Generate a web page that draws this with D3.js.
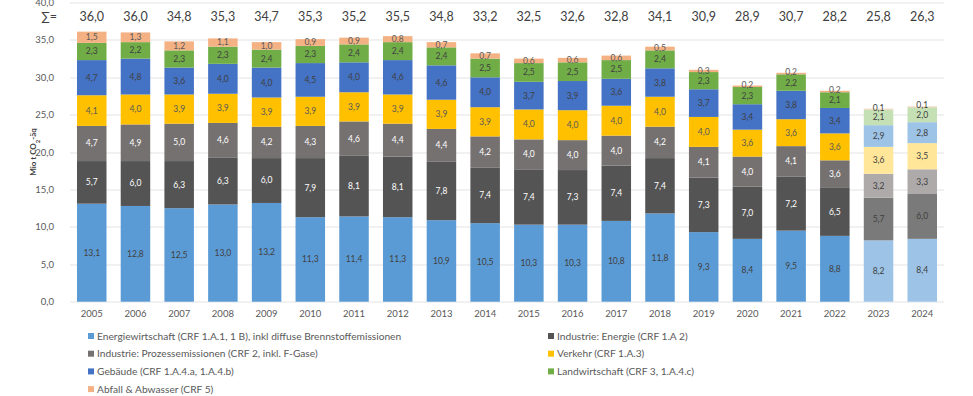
<!DOCTYPE html>
<html>
<head>
<meta charset="utf-8">
<script src="https://cdn.jsdelivr.net/npm/d3@7"></script>
<style>
  body { margin: 0; background: #fff; }
  svg { display: block; font-family: Lato, "Open Sans", sans-serif; }
</style>
</head>
<body>
<svg class="chart" width="973" height="396"></svg>
<script>
const years = ["2005", "2006", "2007", "2008", "2009", "2010", "2011", "2012", "2013", "2014",
               "2015", "2016", "2017", "2018", "2019", "2020", "2021", "2022", "2023", "2024"]
const projected = ["2023", "2024"]

const energiewirtschaft = [13.1, 12.8, 12.5, 13.0, 13.2, 11.3, 11.4, 11.3, 10.9, 10.5, 10.3, 10.3, 10.8, 11.8, 9.3, 8.4, 9.5, 8.8, 8.2, 8.4]
const industrieEnergie  = [5.7, 6.0, 6.3, 6.3, 6.0, 7.9, 8.1, 8.1, 7.8, 7.4, 7.4, 7.3, 7.4, 7.4, 7.3, 7.0, 7.2, 6.5, 5.7, 6.0]
const industrieProzess  = [4.7, 4.9, 5.0, 4.6, 4.2, 4.3, 4.6, 4.4, 4.4, 4.2, 4.0, 4.0, 4.0, 4.2, 4.1, 4.0, 4.1, 3.6, 3.2, 3.3]
const verkehr           = [4.1, 4.0, 3.9, 3.9, 3.9, 3.9, 3.9, 3.9, 3.9, 3.9, 4.0, 4.0, 4.0, 4.0, 4.0, 3.6, 3.6, 3.6, 3.6, 3.5]
const gebaeude          = [4.7, 4.8, 3.6, 4.0, 4.0, 4.5, 4.0, 4.6, 4.6, 4.0, 3.7, 3.9, 3.6, 3.8, 3.7, 3.4, 3.8, 3.4, 2.9, 2.8]
const landwirtschaft    = [2.3, 2.2, 2.3, 2.3, 2.4, 2.3, 2.4, 2.4, 2.4, 2.5, 2.5, 2.5, 2.5, 2.4, 2.3, 2.3, 2.2, 2.1, 2.1, 2.0]
const abfall            = [1.5, 1.3, 1.2, 1.1, 1.0, 0.9, 0.9, 0.8, 0.7, 0.7, 0.6, 0.6, 0.6, 0.5, 0.3, 0.2, 0.2, 0.2, 0.1, 0.1]
const totals            = [36.0, 36.0, 34.8, 35.3, 34.7, 35.3, 35.2, 35.5, 34.8, 33.2, 32.5, 32.6, 32.8, 34.1, 30.9, 28.9, 30.7, 28.2, 25.8, 26.3]

const yTicks = [0, 5, 10, 15, 20, 25, 30, 35, 40]

const series = [
  { key: "energie",  name: "Energiewirtschaft (CRF 1.A.1, 1 B), inkl diffuse Brennstoffemissionen", values: energiewirtschaft, color: "#5b9bd5", light: "#9dc3e6", text: "#404040" },
  { key: "indEn",    name: "Industrie: Energie (CRF 1.A 2)", values: industrieEnergie, color: "#545454", light: "#7a7a7a", text: "#ffffff" },
  { key: "indPro",   name: "Industrie: Prozessemissionen (CRF 2, inkl. F-Gase)", values: industrieProzess, color: "#767171", light: "#aeaaaa", text: "#ffffff" },
  { key: "verkehr",  name: "Verkehr (CRF 1.A.3)", values: verkehr, color: "#ffc000", light: "#ffe699", text: "#595959" },
  { key: "gebaeude", name: "Gebäude (CRF 1.A.4.a, 1.A.4.b)", values: gebaeude, color: "#4472c4", light: "#9dc3e6", text: "#404040" },
  { key: "land",     name: "Landwirtschaft (CRF 3, 1.A.4.c)", values: landwirtschaft, color: "#70ad47", light: "#c5e0b4", text: "#404040" },
  { key: "abfall",   name: "Abfall & Abwasser (CRF 5)", values: abfall, color: "#f4b183", light: "#f8cbad", text: "#595959" }
]

const de = d3.formatLocale({ decimal: ",", thousands: ".", grouping: [3], currency: ["", " €"] })
const fmt = de.format(".1f")

const rows = years.map(function(y, i) {
  const r = { year: y }
  series.forEach(function(s) { r[s.key] = s.values[i] })
  return r
})

const margin = { top: 2.5, left: 70, right: 29, bottom: 94.3 },
      width = 973 - margin.left - margin.right,
      height = 396 - margin.top - margin.bottom

const svg = d3.select(".chart")
const g = svg.append("g").attr("transform", "translate(" + margin.left + "," + margin.top + ")")

const x = d3.scaleBand().domain(years).range([0, width]).paddingInner(0.325).paddingOuter(0.16)
const y = d3.scaleLinear().domain([0, 40]).range([height, 0])

// grid
g.append("g")
  .selectAll("line")
  .data(yTicks)
  .join("line")
    .attr("x1", 0)
    .attr("x2", width)
    .attr("y1", function(d) { return Math.round(y(d)) + 0.5 })
    .attr("y2", function(d) { return Math.round(y(d)) + 0.5 })
    .attr("stroke", "#e3e3e3")

// y axis labels
g.append("g")
  .call(d3.axisLeft(y).tickValues(yTicks).tickFormat(fmt).tickSize(0).tickPadding(16))
  .call(function(a) { a.select(".domain").remove() })
  .selectAll("text")
    .attr("fill", "#595959")
    .style("font-size", "9.5px")
    .style("font-family", "Lato, sans-serif")

// x axis labels
g.append("g")
  .attr("transform", "translate(0," + height + ")")
  .call(d3.axisBottom(x).tickSize(0).tickPadding(9))
  .call(function(a) { a.select(".domain").remove() })
  .selectAll("text")
    .attr("fill", "#595959")
    .style("font-size", "9.5px")
    .style("font-family", "Lato, sans-serif")

const stacked = d3.stack().keys(series.map(function(s) { return s.key }))(rows)

const layers = g.selectAll(".layer")
  .data(stacked)
  .join("g")
    .attr("class", "layer")

layers.selectAll("rect")
  .data(function(d) { return d.map(function(p) { return { p: p, s: series[d.index] } }) })
  .join("rect")
    .attr("x", function(d) { return x(d.p.data.year) })
    .attr("width", x.bandwidth())
    .attr("y", function(d) { return y(d.p[1]) })
    .attr("height", function(d) { return y(d.p[0]) - y(d.p[1]) })
    .attr("fill", function(d) { return projected.includes(d.p.data.year) ? d.s.light : d.s.color })

layers.selectAll("text")
  .data(function(d) { return d.map(function(p) { return { p: p, s: series[d.index] } }) })
  .join("text")
    .attr("x", function(d) { return x(d.p.data.year) + x.bandwidth() / 2 })
    .attr("y", function(d) {
      // tiny top segments: nudge label up a little so it sits on the bar top
      const v = d.p[1] - d.p[0]
      return y((d.p[0] + d.p[1]) / 2) - (v < 0.3 ? 1.5 : 0)
    })
    .attr("dy", "0.35em")
    .attr("text-anchor", "middle")
    .attr("fill", function(d) { return projected.includes(d.p.data.year) ? "#404040" : d.s.text })
    .style("font-size", "8.5px")
    .text(function(d) { return fmt(d.p[1] - d.p[0]) })

// sum row
g.append("text")
  .attr("x", -13)
  .attr("y", 14.5)
  .attr("dy", "0.35em")
  .attr("text-anchor", "end")
  .attr("fill", "#404040")
  .style("font-size", "12.5px")
  .text("∑=")

g.append("g")
  .selectAll("text")
  .data(years)
  .join("text")
    .attr("x", function(d) { return x(d) + x.bandwidth() / 2 })
    .attr("y", 14.5)
    .attr("dy", "0.35em")
    .attr("text-anchor", "middle")
    .attr("fill", "#404040")
    .style("font-size", "12.5px")
    .text(function(d, i) { return fmt(totals[i]) })

// y title
svg.append("text")
  .attr("transform", "translate(36,152) rotate(-90)")
  .attr("text-anchor", "middle")
  .attr("fill", "#404040")
  .style("font-size", "8px")
  .style("font-weight", "bold")
  .html("Mio t CO<tspan baseline-shift='sub' font-size='6px'>2</tspan>-äq")

// legend, two columns filled row-wise
const legend = svg.append("g")
  .selectAll("g")
  .data(series)
  .join("g")
    .attr("transform", function(d, i) {
      return "translate(" + (i % 2 === 0 ? 88 : 548) + "," + (336 + Math.floor(i / 2) * 17.7) + ")"
    })

legend.append("rect")
  .attr("x", 0)
  .attr("y", -3)
  .attr("width", 6)
  .attr("height", 6)
  .attr("fill", function(d) { return d.color })

legend.append("text")
  .attr("x", 9)
  .attr("dy", "0.35em")
  .attr("fill", "#595959")
  .style("font-size", "10.2px")
  .text(function(d) { return d.name })
</script>
</body>
</html>
